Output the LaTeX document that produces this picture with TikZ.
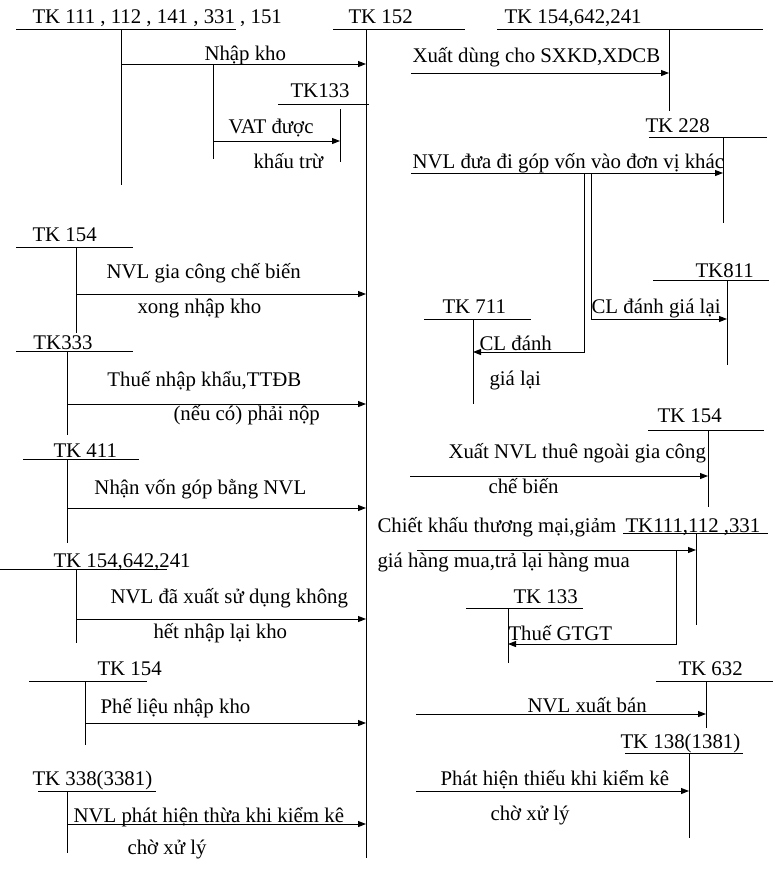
\documentclass[tikz,border=0pt]{standalone}
\usepackage{fontspec}
\setmainfont{Liberation Serif}
\usetikzlibrary{arrows.meta}

\begin{document}
\begin{tikzpicture}[x=0.6pt, y=-0.6pt, line width=0.6pt,
	acct/.style = {anchor=base west, inner sep=0pt, font=\fontsize{12.5}{15}\selectfont},
	flow/.style = {-{Triangle[length=4.8pt, width=3.6pt]}}]
	\useasboundingbox (0,0) rectangle (773,878);

	% T accounts: heading, rule, column
	\node[acct] (t111) at (32,23) {TK 111 , 112 , 141 , 331 , 151};
	\draw (16,29) -- (236,29) (121,29) coordinate (v111) -- (121,185);
	\node[acct] (t152) at (348,23) {TK 152};
	\draw (333,29) -- (465,29) (366,29) coordinate (v152) -- (366,858);
	\node[acct] (t154top) at (504,23) {TK 154,642,241};
	\draw (497,29) -- (763,29) (669,29) coordinate (v154top) -- (669,111);
	\node[acct] (t133top) at (290,97) {TK133};
	\draw (278,104) -- (369,104) (340,109) coordinate (v133top) -- (340,162);
	\node[acct] (t228) at (645,132) {TK 228};
	\draw (649,137) -- (767,137) (723,137) coordinate (v228) -- (723,223);
	\node[acct] (t811) at (695,277) {TK811};
	\draw (653,280) -- (769,280) (727,280) coordinate (v811) -- (727,365);
	\node[acct] (t711) at (442,313) {TK 711};
	\draw (424,319) -- (531,319) (473,319) coordinate (v711) -- (473,404);
	\node[acct] (t154out) at (657,422) {TK 154};
	\draw (648,430) -- (764,430) (708,430) coordinate (v154out) -- (708,507);
	\node[acct] (t111back) at (625,532) {TK111,112 ,331};
	\draw (623,533) -- (768,533) (696,533) coordinate (v111back) -- (696,625);
	\node[acct] (t133back) at (513,603) {TK 133};
	\draw (466,608) -- (583,608) (508,608) coordinate (v133back) -- (508,663);
	\node[acct] (t632) at (678,675) {TK 632};
	\draw (656,681) -- (773,681) (706,681) coordinate (v632) -- (706,728);
	\node[acct] (t1381) at (620,748) {TK 138(1381)};
	\draw (625,753) -- (743,753) (689,753) coordinate (v1381) -- (689,838);
	\node[acct] (t154in) at (32,241) {TK 154};
	\draw (16,247) -- (133,247) (76,247) coordinate (v154in) -- (76,333);
	\node[acct] (t333) at (33,349) {TK333};
	\draw (16,351) -- (133,351) (67,351) coordinate (v333) -- (67,435);
	\node[acct] (t411) at (53,457) {TK 411};
	\draw (23,459) -- (139,459) (67,459) coordinate (v411) -- (67,543);
	\node[acct] (t154ret) at (53,567) {TK 154,642,241};
	\draw (0,569) -- (167,569) (76,569) coordinate (v154ret) -- (76,643);
	\node[acct] (t154scrap) at (97,675) {TK 154};
	\draw (29,681) -- (147,681) (85,681) coordinate (v154scrap) -- (85,745);
	\node[acct] (t3381) at (32,785) {TK 338(3381)};
	\draw (38,791) -- (156,791) (67,791) coordinate (v3381) -- (67,853);

	% entries into TK 152
	\coordinate (nk) at (121,64);
	\draw[flow] (nk) -- (nk -| v152);
	\node[acct] (nhapkho) at (204,60) {Nhập kho};
	\coordinate (vat) at (213,141);
	\draw (213,64) -- (213,159);
	\draw[flow] (vat) -- (vat -| v133top);
	\node[acct] (vat1) at (228,133) {VAT được};
	\node[acct] (vat2) at (253,168) {khấu trừ};
	\coordinate (gc) at (76,294);
	\draw[flow] (gc) -- (gc -| v152);
	\node[acct] (gc1) at (106,278) {NVL gia công chế biến};
	\node[acct] (gc2) at (137,313) {xong nhập kho};
	\coordinate (th) at (67,404);
	\draw[flow] (th) -- (th -| v152);
	\node[acct] (th1) at (107,386) {Thuế nhập khẩu,TTĐB};
	\node[acct] (th2) at (173,420) {(nếu có) phải nộp};
	\coordinate (vg) at (67,508);
	\draw[flow] (vg) -- (vg -| v152);
	\node[acct] (vg1) at (94,494) {Nhận vốn góp bằng NVL};
	\coordinate (nl) at (76,619);
	\draw[flow] (nl) -- (nl -| v152);
	\node[acct] (nl1) at (110,603) {NVL đã xuất sử dụng không};
	\node[acct] (nl2) at (153,638) {hết nhập lại kho};
	\coordinate (pl) at (85,723);
	\draw[flow] (pl) -- (pl -| v152);
	\node[acct] (pl1) at (100,713) {Phế liệu nhập kho};
	\coordinate (th3381) at (67,824);
	\draw[flow] (th3381) -- (th3381 -| v152);
	\node[acct] (tt1) at (73,822) {NVL phát hiện thừa khi kiểm kê};
	\node[acct] (tt2) at (127,854) {chờ xử lý};

	% entries out of TK 152
	\coordinate (xd) at (411,73);
	\draw[flow] (xd) -- (xd -| v154top);
	\node[acct] (xd1) at (412,62) {Xuất dùng cho SXKD,XDCB};
	\coordinate (gv) at (411,173);
	\draw[flow] (gv) -- (gv -| v228);
	\node[acct] (gv1) at (412,168) {NVL đưa đi góp vốn vào đơn vị khác};
	\coordinate (cl711) at (584,173);
	\draw[flow] (cl711) -- (584,352) -- (v711 |- 584,352);
	\coordinate (cl811) at (591,173);
	\draw[flow] (cl811) -- (591,319) -- (v811 |- 591,319);
	\node[acct] (cl811a) at (591,313) {CL đánh giá lại};
	\node[acct] (cl711a) at (479,350) {CL đánh};
	\node[acct] (cl711b) at (489,385) {giá lại};
	\coordinate (tn) at (410,476);
	\draw[flow] (tn) -- (tn -| v154out);
	\node[acct] (tn1) at (448,458) {Xuất NVL thuê ngoài gia công};
	\node[acct] (tn2) at (488,493) {chế biến};
	\coordinate (ck) at (417,550);
	\draw[flow] (ck) -- (ck -| v111back);
	\coordinate (ckvat) at (676,550);
	\draw[flow] (ckvat) -- (676,644) -- (v133back |- 676,644);
	\node[acct] (ck1) at (377,532) {Chiết khấu thương mại,giảm};
	\node[acct] (ck2) at (377,567) {giá hàng mua,trả lại hàng mua};
	\node[acct] (ck3) at (508,640) {Thuế GTGT};
	\coordinate (xb) at (416,714);
	\draw[flow] (xb) -- (xb -| v632);
	\node[acct] (xb1) at (527,712) {NVL xuất bán};
	\coordinate (tk) at (416,791);
	\draw[flow] (tk) -- (tk -| v1381);
	\node[acct] (tk1) at (440,785) {Phát hiện thiếu khi kiểm kê};
	\node[acct] (tk2) at (490,820) {chờ xử lý};
\end{tikzpicture}
\end{document}
